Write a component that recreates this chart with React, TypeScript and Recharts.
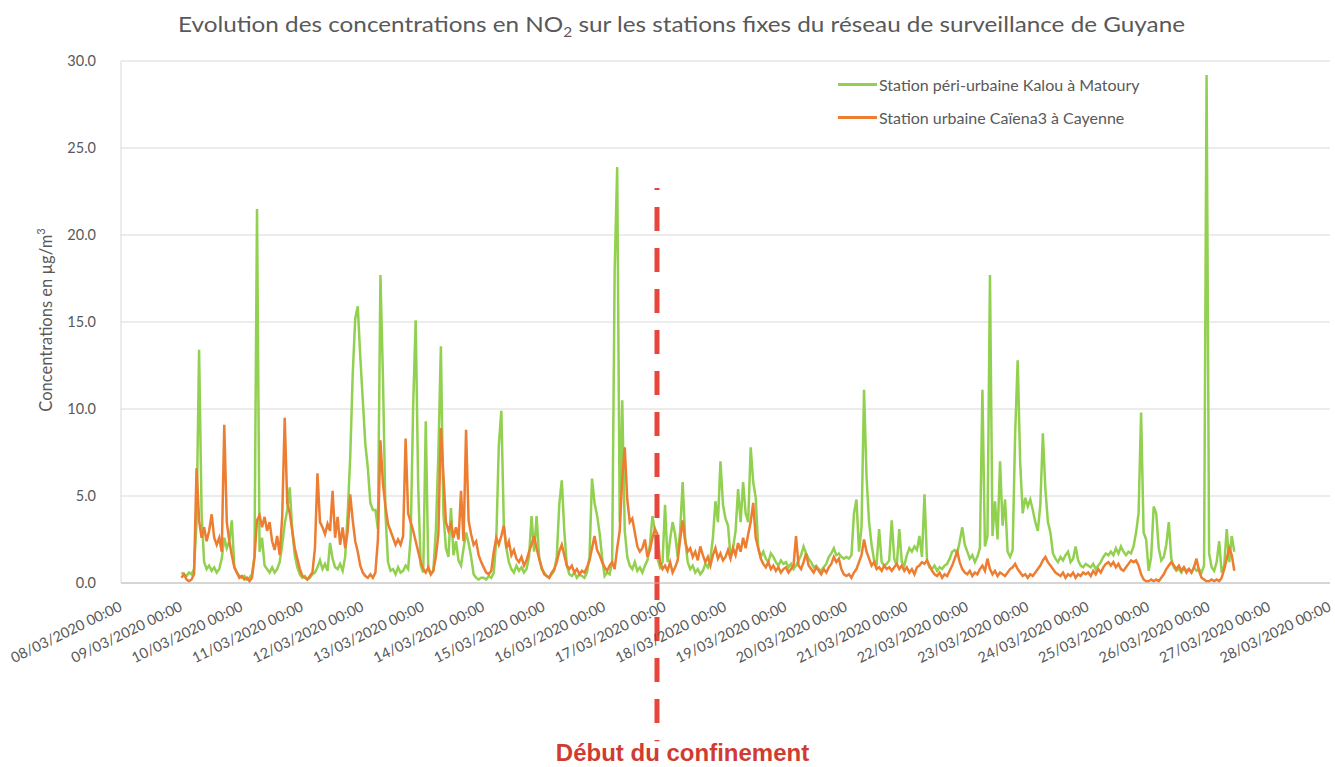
import React from 'react';
import { LineChart, Line, XAxis, YAxis, CartesianGrid, ReferenceLine, Legend } from 'recharts';

// Hours are counted from 08/03/2020 00:00; the hourly series start on 09/03/2020 00:00.
const START_HOUR = 24;
const LOCKDOWN_HOUR = 212.8;

const dayLabels = [
  '08/03/2020 00:00', '09/03/2020 00:00', '10/03/2020 00:00', '11/03/2020 00:00', '12/03/2020 00:00',
  '13/03/2020 00:00', '14/03/2020 00:00', '15/03/2020 00:00', '16/03/2020 00:00', '17/03/2020 00:00',
  '18/03/2020 00:00', '19/03/2020 00:00', '20/03/2020 00:00', '21/03/2020 00:00', '22/03/2020 00:00',
  '23/03/2020 00:00', '24/03/2020 00:00', '25/03/2020 00:00', '26/03/2020 00:00', '27/03/2020 00:00',
  '28/03/2020 00:00',
];
const yTicks = [0, 5, 10, 15, 20, 25, 30];

// Station péri-urbaine Kalou à Matoury (hourly, µg/m3)
const kalou = [
  0.6, 0.5, 0.4, 0.6, 0.5, 0.8, 3.5, 13.4, 4.0, 1.2, 0.8, 1.0, 0.7, 0.9, 0.6, 0.8, 1.4, 2.6, 2.0, 2.4, 3.6, 0.9, 0.6, 0.4,
  0.3, 0.4, 0.2, 0.3, 0.5, 1.5, 21.5, 1.8, 2.6, 1.0, 0.8, 0.6, 0.9, 0.6, 0.8, 1.2, 2.2, 3.4, 4.2, 5.5, 3.0, 1.6, 0.9, 0.5,
  0.3, 0.4, 0.2, 0.3, 0.5, 0.6, 0.9, 1.3, 0.8, 1.1, 0.7, 2.3, 1.4, 0.9, 0.8, 1.1, 0.7, 1.5, 4.0, 7.2, 12.0, 15.2, 15.9, 13.0,
  10.5, 8.0, 6.6, 4.6, 4.2, 4.2, 3.1, 17.7, 11.8, 4.0, 1.2, 0.7, 0.8, 0.5, 0.9, 0.6, 0.7, 1.0, 0.8, 2.6, 10.2, 15.1, 5.5, 1.0,
  0.6, 9.3, 0.8, 0.5, 0.7, 3.0, 7.4, 13.6, 4.0, 2.0, 1.5, 4.3, 1.6, 2.4, 1.3, 1.0, 2.0, 2.9, 2.3, 1.5, 0.5, 0.3, 0.2, 0.3,
  0.3, 0.2, 0.4, 0.3, 0.6, 2.5, 7.9, 9.9, 3.3, 2.0, 1.2, 0.8, 0.6, 1.0, 0.7, 0.9, 0.6, 0.8, 1.5, 3.85, 1.8, 3.85, 1.5, 0.8,
  0.6, 0.4, 0.3, 0.5, 0.7, 1.5, 4.5, 5.9, 3.0, 1.0, 0.5, 0.4, 0.6, 0.3, 0.5, 0.4, 0.3, 0.6, 1.5, 6.0, 4.6, 3.9, 2.9, 1.5,
  0.4, 0.6, 0.5, 1.2, 18.0, 23.9, 3.5, 10.5, 3.0, 1.5, 1.0, 0.8, 1.2, 0.7, 0.9, 0.6, 1.0, 1.3, 2.2, 3.85, 3.0, 1.4, 0.9, 1.2,
  4.5, 1.2, 2.5, 3.5, 2.8, 1.5, 3.0, 5.8, 2.5, 1.2, 0.8, 1.0, 0.6, 0.8, 0.5, 0.7, 1.1, 0.9, 1.4, 2.6, 4.7, 3.5, 7.0, 4.5,
  3.7, 3.3, 1.5, 2.0, 3.0, 5.4, 3.5, 5.8, 4.0, 3.5, 7.8, 5.8, 4.9, 2.0, 1.5, 1.8, 1.4, 1.2, 1.7, 1.5, 1.2, 1.0, 1.3, 1.1,
  1.2, 0.9, 1.1, 0.8, 1.0, 1.3, 1.6, 2.1, 1.7, 1.4, 1.2, 0.9, 1.0, 0.8, 0.7, 0.9, 1.1, 1.5, 1.7, 2.0, 1.6, 1.7, 1.5, 1.4,
  1.5, 1.4, 1.6, 4.0, 4.8, 1.8, 3.2, 11.1, 6.1, 3.5, 2.2, 1.3, 1.1, 3.1, 1.2, 1.0, 1.1, 1.3, 3.6, 1.4, 1.0, 3.1, 1.2, 1.0,
  1.6, 2.0, 1.8, 2.1, 1.9, 2.7, 1.5, 5.1, 1.3, 0.9, 0.8, 1.0, 0.7, 0.9, 0.8, 1.0, 1.1, 1.4, 1.8, 1.9, 1.7, 2.4, 3.2, 2.2,
  1.8, 1.4, 1.6, 1.2, 1.5, 2.0, 11.1, 2.1, 2.7, 17.7, 2.7, 4.7, 2.5, 7.0, 3.3, 4.8, 1.8, 1.5, 1.9, 8.6, 12.8, 6.9, 4.0, 4.9,
  4.4, 4.8, 4.2, 3.5, 3.0, 4.5, 8.6, 5.4, 3.5, 2.9, 1.7, 1.4, 1.2, 1.5, 1.3, 1.6, 1.8, 1.2, 1.4, 2.1, 1.3, 1.0, 0.9, 1.1,
  1.0, 0.9, 1.1, 0.8, 1.0, 1.2, 1.5, 1.7, 1.6, 1.8, 1.6, 2.0, 1.7, 2.1, 1.8, 1.6, 1.8, 1.7, 2.1, 2.9, 4.0, 9.8, 2.9, 2.5,
  0.7, 1.5, 4.4, 4.0, 2.0, 1.3, 1.5, 2.2, 3.5, 1.4, 0.9, 0.7, 0.8, 0.6, 0.9, 0.7, 0.8, 0.6, 0.9, 0.7, 0.8, 0.6, 1.0, 29.2,
  1.7, 0.9, 0.7, 1.2, 2.4, 0.6, 1.0, 3.1, 1.2, 2.7, 1.8,
];

// Station urbaine Caïena3 à Cayenne (hourly, µg/m3)
const caiena3 = [
  0.3, 0.5, 0.2, 0.1, 0.2, 0.5, 6.6, 3.6, 2.6, 3.2, 2.4, 3.0, 3.95, 2.6, 2.2, 2.6, 1.8, 9.1, 3.5, 2.4, 1.6, 0.9, 0.6, 0.3,
  0.4, 0.2, 0.3, 0.1, 0.3, 1.5, 3.6, 3.9, 3.2, 3.8, 3.0, 3.5, 2.4, 1.9, 2.7, 1.6, 3.8, 9.5, 4.6, 4.0, 3.0, 2.0, 1.4, 0.8,
  0.4, 0.3, 0.2, 0.4, 0.6, 2.0, 6.3, 3.5, 3.2, 2.8, 3.4, 3.0, 5.3, 2.6, 3.8, 2.2, 3.2, 2.0, 3.0, 5.1, 3.6, 2.4, 1.8, 1.0,
  0.6, 0.4, 0.3, 0.5, 0.3, 0.6, 2.5, 8.2, 5.7, 4.4, 3.4, 3.0, 2.6, 2.2, 2.5, 2.2, 2.7, 8.3, 4.0, 3.5, 3.0, 2.4, 1.8, 1.2,
  0.8, 0.6, 0.9, 0.5, 0.7, 1.5, 2.8, 8.9, 6.2, 3.5, 3.0, 3.4, 2.6, 3.2, 2.5, 5.3, 2.4, 8.8, 3.6, 2.8, 2.2, 2.4, 1.6, 1.2,
  0.9, 0.6, 0.5, 0.7, 1.8, 2.6, 2.2, 2.7, 3.3, 2.0, 2.4, 1.6, 1.9, 1.4, 1.2, 1.5, 1.0, 1.3, 1.8, 2.2, 2.7, 2.0, 1.4, 0.9,
  0.5, 0.4, 0.3, 0.6, 0.8, 1.2, 1.8, 2.2, 1.6, 1.0, 0.8, 1.0, 0.6, 0.8, 0.5, 0.7, 0.6, 0.9, 1.3, 2.0, 2.7, 1.9, 1.6, 1.2,
  0.9, 0.7, 1.0, 1.2, 0.8, 2.0, 3.0, 6.0, 7.8, 4.8, 3.5, 3.7, 2.9, 2.1, 1.8, 2.0, 2.5, 1.5, 1.9, 2.6, 3.1, 2.8, 1.2, 0.8,
  1.0, 0.7, 1.2, 0.6, 0.9, 1.3, 2.5, 3.6, 2.4, 1.8, 2.0, 1.5, 1.8, 1.3, 2.1, 1.6, 1.2, 1.5, 1.0, 1.6, 2.0, 1.4, 1.7, 1.3,
  1.5, 1.9, 1.4, 2.0, 1.6, 2.3, 1.8, 2.6, 2.0, 2.8, 3.5, 4.6, 2.6, 2.0, 1.4, 1.1, 0.9, 1.2, 0.8, 1.0, 0.7, 0.9, 0.6, 0.8,
  0.9, 0.6, 0.8, 1.0, 2.7, 1.0, 0.8, 1.2, 1.7, 1.0, 0.8, 0.6, 0.9, 0.7, 0.5, 0.8, 0.6, 0.9, 1.1, 1.5, 1.2, 1.4, 0.8, 0.5,
  0.4, 0.5, 0.3, 0.6, 0.8, 1.2, 1.6, 2.5, 1.8, 1.4, 1.0, 1.2, 0.8, 0.9, 0.7, 1.0, 0.8, 0.9, 0.7, 0.9, 1.1, 0.8, 1.0, 0.7,
  0.9, 0.6, 0.8, 0.5, 0.9, 1.0, 1.2, 1.1, 1.3, 1.0, 0.7, 0.5, 0.4, 0.6, 0.3, 0.5, 0.4, 0.7, 1.0, 1.4, 1.8, 1.2, 0.8, 0.6,
  0.5, 0.7, 0.4, 0.6, 0.5, 0.8, 1.0, 0.7, 1.4, 0.8, 0.5, 0.7, 0.4, 0.6, 0.5, 0.4, 0.6, 0.8, 0.9, 1.1, 0.8, 0.6, 0.4, 0.5,
  0.3, 0.5, 0.4, 0.6, 0.8, 1.0, 1.3, 1.5, 1.2, 1.0, 0.8, 0.6, 0.5, 0.4, 0.6, 0.3, 0.5, 0.4, 0.6, 0.3, 0.5, 0.4, 0.6, 0.5,
  0.6, 0.4, 0.7, 0.5, 0.8, 0.6, 0.9, 1.1, 1.2, 1.0, 1.2, 0.9, 1.1, 0.8, 0.7, 0.9, 1.1, 1.3, 1.2, 1.3, 1.0, 0.5, 0.2, 0.1,
  0.1, 0.2, 0.1, 0.2, 0.1, 0.3, 0.5, 0.8, 1.0, 1.2, 1.0, 0.8, 1.0, 0.7, 0.9, 0.6, 0.8, 0.6, 0.9, 1.4, 0.7, 0.3, 0.2, 0.1,
  0.1, 0.2, 0.1, 0.2, 0.1, 0.3, 0.8, 1.4, 2.0, 1.6, 0.7,
];

const GREEN = '#92D050';
const ORANGE = '#ED7D31';
const TEXT = '#595959';
const FONT = 'Lato, "Open Sans", sans-serif';

const data = kalou.map((v, i) => ({ t: START_HOUR + i, kalou: v, caiena3: caiena3[i] }));
const xTicks = dayLabels.map((_, i) => i * 24);

const XTick = (props: any) => {
  const { x, y, payload } = props;
  const label = dayLabels[Math.round(payload.value / 24)];
  const ax = x + 2;
  const ay = y + 27;
  return (
    <text x={ax} y={ay} transform={`rotate(-26 ${ax} ${ay})`} textAnchor="end" fill={TEXT} fontSize={14.5} fontFamily={FONT}>
      {label}
    </text>
  );
};

const renderLegend = (props: any) => {
  const { payload } = props;
  return (
    <div>
      {(payload || []).map((entry: any) => (
        <div key={entry.value} style={{ display: 'flex', alignItems: 'center', height: 33 }}>
          <div style={{ width: 39, height: 2.5, background: entry.color, marginRight: 2 }} />
          <span style={{ fontFamily: FONT, fontSize: 16, color: TEXT, whiteSpace: 'nowrap' }}>{entry.value}</span>
        </div>
      ))}
    </div>
  );
};

export default function App() {
  return (
    <div style={{ position: 'absolute', left: 0, top: 0, width: 1335, height: 767, background: '#fff', overflow: 'hidden' }}>
      <LineChart width={1335} height={767} data={data} margin={{ top: 61, right: 5, bottom: 0, left: 0 }}>
        <CartesianGrid vertical={false} stroke="#D9D9D9" strokeWidth={1} />
        <XAxis
          dataKey="t"
          type="number"
          domain={[0, 480]}
          ticks={xTicks}
          interval={0}
          tick={<XTick />}
          tickLine={false}
          tickSize={0}
          tickMargin={0}
          height={184}
          axisLine={{ stroke: '#BFBFBF' }}
        />
        <YAxis
          type="number"
          domain={[0, 30]}
          ticks={yTicks}
          interval={0}
          tickFormatter={(v: number) => v.toFixed(1)}
          width={121}
          tickLine={false}
          tickSize={0}
          tickMargin={25}
          axisLine={{ stroke: '#D9D9D9' }}
          tick={{ fill: TEXT, fontSize: 14.5, fontFamily: FONT }}
        />
        <Legend
          layout="vertical"
          align="center"
          verticalAlign="middle"
          wrapperStyle={{ top: 68, left: 838, width: 330 }}
          content={renderLegend}
        />
        <Line
          type="linear"
          dataKey="kalou"
          name="Station péri-urbaine Kalou à Matoury"
          stroke={GREEN}
          strokeWidth={2.5}
          dot={false}
          activeDot={false}
          isAnimationActive={false}
        />
        <Line
          type="linear"
          dataKey="caiena3"
          name="Station urbaine Caïena3 à Cayenne"
          stroke={ORANGE}
          strokeWidth={2.5}
          dot={false}
          activeDot={false}
          isAnimationActive={false}
        />
        <ReferenceLine
          segment={[{ x: LOCKDOWN_HOUR, y: 22.7 }, { x: LOCKDOWN_HOUR, y: -9.1 }]}
          ifOverflow="visible"
          stroke="#E8453C"
          strokeWidth={5}
          strokeDasharray="24 17"
          strokeDashoffset={22}
        />
      </LineChart>
      <svg width={1335} height={767} style={{ position: 'absolute', left: 0, top: 0, pointerEvents: 'none' }}>
        <text x={681.5} y={32} textAnchor="middle" fill={TEXT} fontSize={22} fontFamily={FONT} textLength={1007} lengthAdjust="spacingAndGlyphs">
          Evolution des concentrations en NO
          <tspan fontSize={14} dy={5}>2</tspan>
          <tspan dy={-5}>{' sur les stations fixes du réseau de surveillance de Guyane'}</tspan>
        </text>
        <text x={46} y={320} transform="rotate(-90 46 320)" textAnchor="middle" dominantBaseline="central" fill={TEXT} fontSize={16.5} fontFamily={FONT}>
          Concentrations en µg/m
          <tspan fontSize={11} dy={-6}>3</tspan>
        </text>
        <text x={682.5} y={761} textAnchor="middle" fill="#D13B30" fontSize={24} fontWeight="bold" fontFamily='"Liberation Sans", Arial, sans-serif'>
          Début du confinement
        </text>
      </svg>
    </div>
  );
}
